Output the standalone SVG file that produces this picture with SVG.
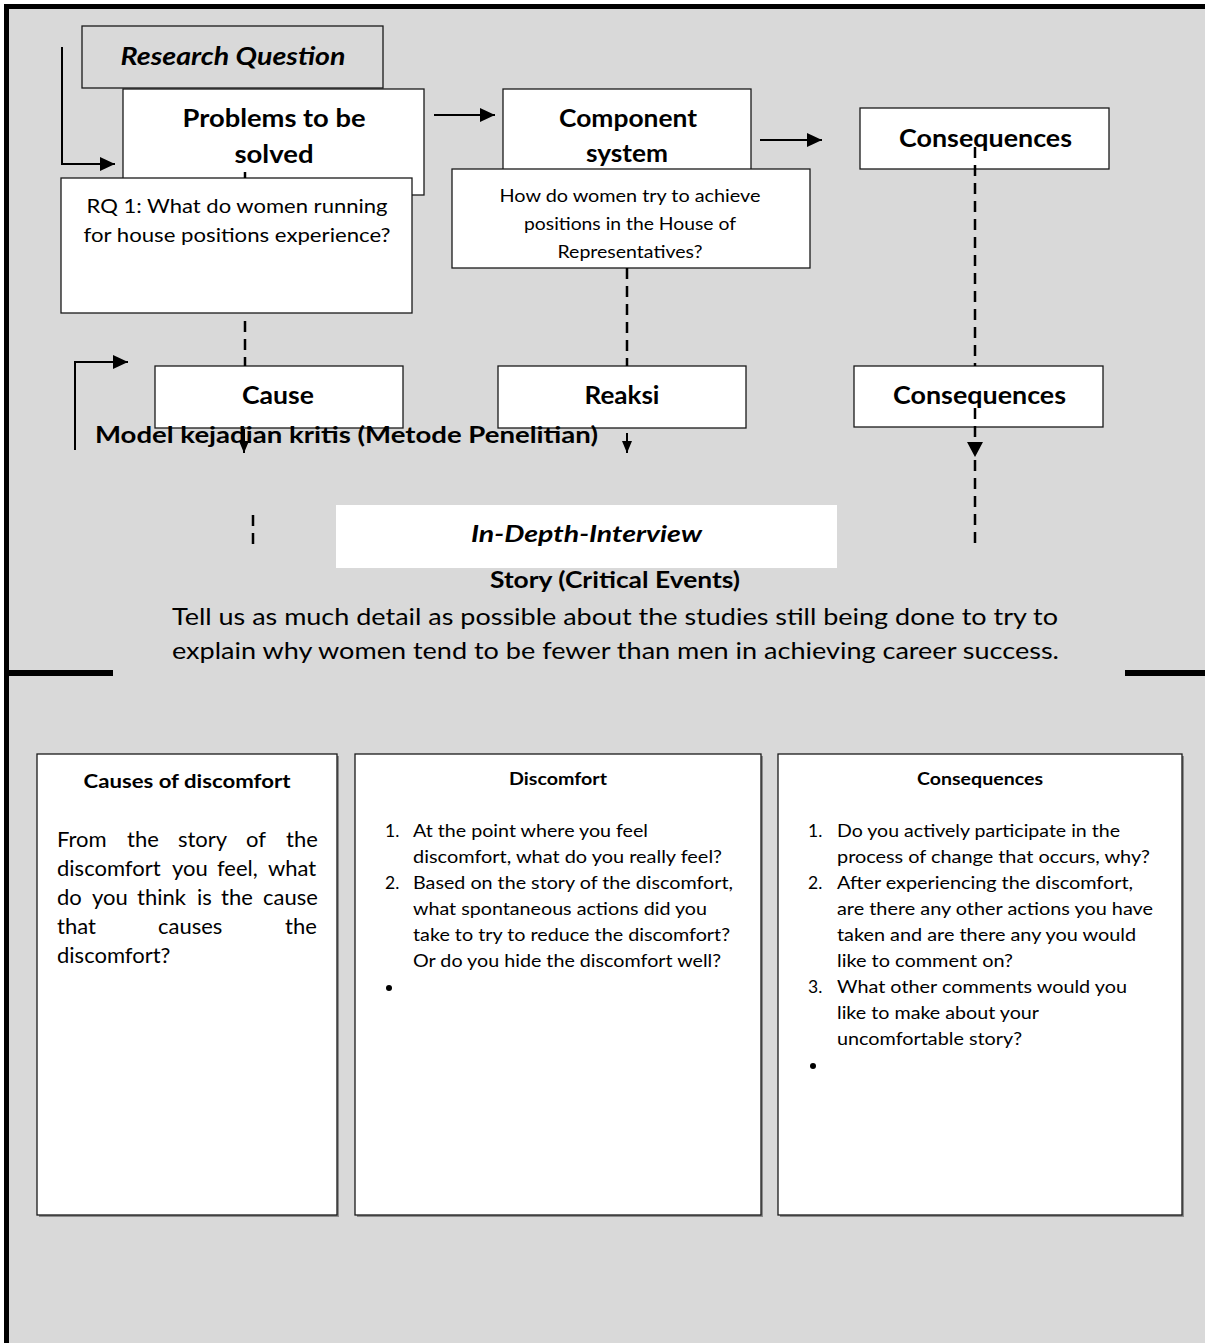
<svg xmlns="http://www.w3.org/2000/svg" width="1205" height="1343" viewBox="0 0 1205 1343">
<style>
text{font-family:Lato,"Open Sans","Liberation Sans",sans-serif;fill:#000}
.b{font-weight:700}
.i{font-style:italic}
.c{text-anchor:middle}
.t25{font-size:25px}
.box{fill:#fff;stroke:#1a1a1a;stroke-width:1.3}
.gbox{fill:#d9d9d9;stroke:#1a1a1a;stroke-width:1.3}
.sh{fill:#8c8c8c}
.ln{fill:none;stroke:#000;stroke-width:2}
.dash{fill:none;stroke:#000;stroke-width:2.5;stroke-dasharray:11 7}
.rq{font-size:19px}
.hw{font-size:17px}
.body{font-size:23px}
.para{font-size:22px}
.li{font-size:17.5px}
.h16{font-size:16.5px}
</style>
<defs>
<marker id="ah" markerUnits="userSpaceOnUse" markerWidth="15" markerHeight="14" refX="15" refY="7" orient="auto"><path d="M0,0 L15,7 L0,14 z" fill="#000"/></marker>
<marker id="ahb" markerUnits="userSpaceOnUse" markerWidth="16" markerHeight="16" refX="16" refY="8" orient="auto"><path d="M0,0 L16,8 L0,16 z" fill="#000"/></marker>
<marker id="ahs" markerUnits="userSpaceOnUse" markerWidth="12" markerHeight="10" refX="12" refY="5" orient="auto"><path d="M0,0 L12,5 L0,10 z" fill="#000"/></marker>
</defs>

<g id="frame">
<rect x="0" y="0" width="1205" height="1343" fill="#fff"/>
<rect x="9" y="9" width="1196" height="1334" fill="#d9d9d9"/>
<rect x="4" y="4" width="1201" height="5" fill="#000"/>
<rect x="4" y="4" width="5" height="1339" fill="#000"/>
<rect x="4" y="670" width="109" height="6" fill="#000"/>
<rect x="1125" y="670" width="80" height="6" fill="#000"/>
</g>

<g id="research-question">
<rect class="gbox" x="82" y="26" width="301" height="62"/>
<text class="b i c t25" x="233" y="65" textLength="225" lengthAdjust="spacingAndGlyphs">Research Question</text>
</g>

<g id="problems">
<rect class="box" x="123" y="89" width="301" height="106"/>
<text class="b c t25" x="274" y="127" textLength="183" lengthAdjust="spacingAndGlyphs">Problems to be</text>
<text class="b c t25" x="274" y="163" textLength="79" lengthAdjust="spacingAndGlyphs">solved</text>
</g>

<g id="component">
<rect class="box" x="503" y="89" width="248" height="100"/>
<text class="b c t25" x="628" y="127" textLength="138" lengthAdjust="spacingAndGlyphs">Component</text>
<text class="b c t25" x="627" y="162" textLength="82" lengthAdjust="spacingAndGlyphs">system</text>
</g>

<g id="consequences-top">
<rect class="box" x="860" y="108" width="249" height="61"/>
<text class="b c t25" x="985.5" y="147" textLength="173" lengthAdjust="spacingAndGlyphs">Consequences</text>
</g>

<g id="rq1">
<rect class="box" x="61" y="178" width="351" height="135"/>
<text class="rq c" x="237" y="213" textLength="301" lengthAdjust="spacingAndGlyphs">RQ 1: What do women running</text>
<text class="rq c" x="237" y="242" textLength="307" lengthAdjust="spacingAndGlyphs">for house positions experience?</text>
</g>

<g id="how">
<rect class="box" x="452" y="169" width="358" height="99"/>
<text class="hw c" x="630" y="202" textLength="261" lengthAdjust="spacingAndGlyphs">How do women try to achieve</text>
<text class="hw c" x="630" y="230" textLength="212" lengthAdjust="spacingAndGlyphs">positions in the House of</text>
<text class="hw c" x="630" y="258" textLength="145" lengthAdjust="spacingAndGlyphs">Representatives?</text>
</g>

<g id="cause">
<rect class="box" x="155" y="366" width="248" height="62"/>
<text class="b c t25" x="278" y="404" textLength="72" lengthAdjust="spacingAndGlyphs">Cause</text>
</g>

<g id="reaksi">
<rect class="box" x="498" y="366" width="248" height="62"/>
<text class="b c t25" x="622" y="404" textLength="75" lengthAdjust="spacingAndGlyphs">Reaksi</text>
</g>

<g id="consequences-mid">
<rect class="box" x="854" y="366" width="249" height="61"/>
<text class="b c t25" x="979.5" y="404" textLength="173" lengthAdjust="spacingAndGlyphs">Consequences</text>
</g>

<g id="model-label">
<text class="b" x="95" y="443" font-size="22" textLength="503" lengthAdjust="spacingAndGlyphs">Model kejadian kritis (Metode Penelitian)</text>
</g>

<g id="interview">
<rect x="336" y="505" width="501" height="63" fill="#fff"/>
<text class="b i c" x="586.5" y="542" font-size="22" textLength="231" lengthAdjust="spacingAndGlyphs">In-Depth-Interview</text>
</g>

<g id="story">
<text class="b c" x="615" y="588" font-size="22" textLength="250" lengthAdjust="spacingAndGlyphs">Story (Critical Events)</text>
<text class="body c" x="615" y="625" textLength="886" lengthAdjust="spacingAndGlyphs">Tell us as much detail as possible about the studies still being done to try to</text>
<text class="body c" x="615.5" y="659" textLength="887" lengthAdjust="spacingAndGlyphs">explain why women tend to be fewer than men in achieving career success.</text>
</g>

<g id="connectors">
<path class="ln" d="M62,47 V164 H115" marker-end="url(#ah)"/>
<path class="ln" d="M75,450 V362 H128" marker-end="url(#ah)"/>
<path class="ln" d="M434,115 H495" marker-end="url(#ah)"/>
<path class="ln" d="M760,140 H822" marker-end="url(#ah)"/>
<path class="dash" d="M245,172 V178"/>
<path class="dash" d="M245,321 V366"/>
<path class="dash" d="M627,268 V366"/>
<path class="ln" d="M244,429 V453" marker-end="url(#ahs)"/>
<path class="ln" d="M627,433 V453" marker-end="url(#ahs)"/>
<path class="dash" d="M975,147 V366"/>
<path class="dash" d="M975,408 V450"/>
<path d="M967,442 L983,442 L975,457 z" fill="#000"/>
<path class="dash" d="M975,460 V548"/>
<path class="dash" d="M253,515 V547"/>
</g>

<g id="causes-box">
<rect class="sh" x="39" y="756" width="300" height="461"/>
<rect class="box" x="37" y="754" width="300" height="461"/>
<text class="b c" x="187" y="788" font-size="19" textLength="207" lengthAdjust="spacingAndGlyphs">Causes of discomfort</text>
<text class="para" y="847"><tspan x="57">From</tspan><tspan x="127">the</tspan><tspan x="178">story</tspan><tspan x="246">of</tspan><tspan x="286">the</tspan></text>
<text class="para" y="876"><tspan x="57">discomfort</tspan><tspan x="172">you</tspan><tspan x="217">feel,</tspan><tspan x="268">what</tspan></text>
<text class="para" y="905"><tspan x="57">do</tspan><tspan x="92">you</tspan><tspan x="137">think</tspan><tspan x="197">is</tspan><tspan x="221">the</tspan><tspan x="263">cause</tspan></text>
<text class="para" y="934"><tspan x="57">that</tspan><tspan x="158">causes</tspan><tspan x="285">the</tspan></text>
<text class="para" x="57" y="963">discomfort?</text>
</g>

<g id="discomfort-box">
<rect class="sh" x="357" y="756" width="406" height="461"/>
<rect class="box" x="355" y="754" width="406" height="461"/>
<text class="b c h16" x="558" y="785" textLength="98" lengthAdjust="spacingAndGlyphs">Discomfort</text>
<text class="li" x="385" y="837">1.</text>
<text class="li" x="413" y="837" textLength="235" lengthAdjust="spacingAndGlyphs">At the point where you feel</text>
<text class="li" x="413" y="863" textLength="309" lengthAdjust="spacingAndGlyphs">discomfort, what do you really feel?</text>
<text class="li" x="385" y="889">2.</text>
<text class="li" x="413" y="889" textLength="320" lengthAdjust="spacingAndGlyphs">Based on the story of the discomfort,</text>
<text class="li" x="413" y="915" textLength="294" lengthAdjust="spacingAndGlyphs">what spontaneous actions did you</text>
<text class="li" x="413" y="941" textLength="317" lengthAdjust="spacingAndGlyphs">take to try to reduce the discomfort?</text>
<text class="li" x="413" y="967" textLength="308" lengthAdjust="spacingAndGlyphs">Or do you hide the discomfort well?</text>
<circle cx="389" cy="988" r="3" fill="#000"/>
</g>

<g id="consequences-box">
<rect class="sh" x="780" y="756" width="404" height="461"/>
<rect class="box" x="778" y="754" width="404" height="461"/>
<text class="b c h16" x="980" y="785" textLength="126" lengthAdjust="spacingAndGlyphs">Consequences</text>
<text class="li" x="808" y="837">1.</text>
<text class="li" x="837" y="837" textLength="283" lengthAdjust="spacingAndGlyphs">Do you actively participate in the</text>
<text class="li" x="837" y="863" textLength="313" lengthAdjust="spacingAndGlyphs">process of change that occurs, why?</text>
<text class="li" x="808" y="889">2.</text>
<text class="li" x="837" y="889" textLength="296" lengthAdjust="spacingAndGlyphs">After experiencing the discomfort,</text>
<text class="li" x="837" y="915" textLength="316" lengthAdjust="spacingAndGlyphs">are there any other actions you have</text>
<text class="li" x="837" y="941" textLength="299" lengthAdjust="spacingAndGlyphs">taken and are there any you would</text>
<text class="li" x="837" y="967" textLength="176" lengthAdjust="spacingAndGlyphs">like to comment on?</text>
<text class="li" x="808" y="993">3.</text>
<text class="li" x="837" y="993" textLength="290" lengthAdjust="spacingAndGlyphs">What other comments would you</text>
<text class="li" x="837" y="1019" textLength="202" lengthAdjust="spacingAndGlyphs">like to make about your</text>
<text class="li" x="837" y="1045" textLength="185" lengthAdjust="spacingAndGlyphs">uncomfortable story?</text>
<circle cx="813" cy="1066" r="3" fill="#000"/>
</g>
</svg>
